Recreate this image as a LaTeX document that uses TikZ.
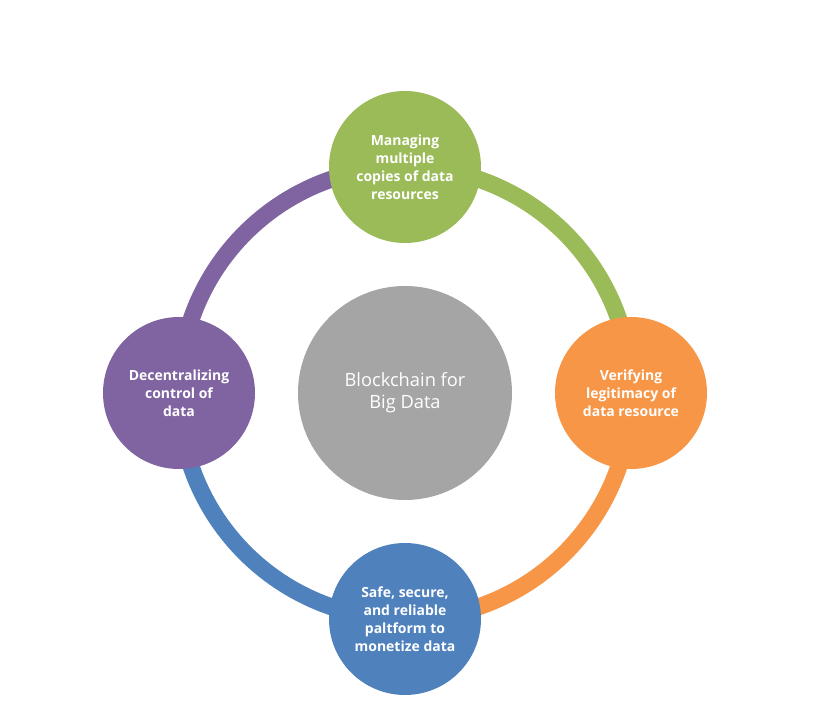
\documentclass[tikz,border=0pt]{standalone}
\usepackage{fontspec}
\setmainfont{Open Sans}
\usetikzlibrary{positioning, backgrounds}

\definecolor{hubgray}{HTML}{A5A5A5}
\definecolor{ringgreen}{HTML}{9BBB59}
\definecolor{ringorange}{HTML}{F79646}
\definecolor{ringblue}{HTML}{4F81BD}
\definecolor{ringpurple}{HTML}{8064A2}

\begin{document}
\begin{tikzpicture}[node distance=4.52cm,
 hub node/.style={circle,fill=hubgray,text=white,minimum size=4.28cm,inner sep=0pt,
   align=center,font=\fontsize{10.4}{12.6}\selectfont},
 main node/.style={circle,text=white,minimum size=3.04cm,inner sep=0pt,
   align=center,font=\bfseries\fontsize{7.95}{10.2}\selectfont},
 ring/.style={line width=0.34cm}]

  \useasboundingbox (-8.1,-6.26) rectangle (8.34,7.86);

  \node[hub node] (hub) {Blockchain for\\Big Data};
  \node[main node,fill=ringgreen] (copies) [above of=hub] {Managing\\multiple\\copies of data\\resources};
  \node[main node,fill=ringorange] (verify) [right of=hub] {Verifying\\legitimacy of\\data resource};
  \node[main node,fill=ringblue] (monetize) [below of=hub] {Safe, secure,\\and reliable\\paltform to\\monetize data};
  \node[main node,fill=ringpurple] (decentral) [left of=hub] {Decentralizing\\control of\\data};

  \begin{scope}[on background layer]
  \foreach \s/\t/\o/\i/\c in {copies/verify/0/90/ringgreen, verify/monetize/-90/0/ringorange,
    monetize/decentral/180/-90/ringblue, decentral/copies/90/180/ringpurple} {
   \draw[ring,\c] (\s.center) to[out=\o,in=\i] (\t.center);}
  \end{scope}

\end{tikzpicture}
\end{document}
